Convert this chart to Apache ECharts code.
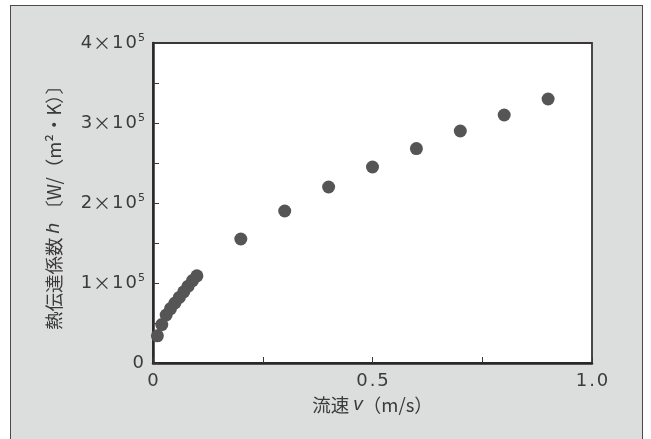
<!DOCTYPE html>
<html><head><meta charset="utf-8">
<script src="https://cdn.jsdelivr.net/npm/echarts@6/dist/echarts.min.js"></script>
<style>
html,body{margin:0;padding:0;background:#fff;}
#wrap{position:relative;width:651px;height:439px;overflow:hidden;}
#frame{position:absolute;left:10px;top:5px;width:633px;height:440px;background:#dcdddd;border:1.5px solid #4d4a4a;box-sizing:border-box;}
#chart{position:absolute;left:0;top:0;width:651px;height:439px;}
</style></head>
<body><div id="wrap"><div id="frame"></div><div id="chart"></div></div>
<script>
// data
const vSmall = [0.01,0.02,0.03,0.04,0.05,0.06,0.07,0.08,0.09,0.10];
const hSmall = [34000,48000,60000,68000,75000,82000,89000,96000,103000,109000];
const vLarge = [0.2,0.3,0.4,0.5,0.6,0.7,0.8,0.9];
const hLarge = [155000,190000,220000,245000,268000,290000,310000,330000];
const xTickLabels = {0:'0',0.5:'0.5',1:'1.0'};
const yTickMantissa = {0:'0',100000:'1',200000:'2',300000:'3',400000:'4'};

const pts = vSmall.map((v,i)=>[v,hSmall[i]]).concat(vLarge.map((v,i)=>[v,hLarge[i]]));
const txt = '#3c3a3a';
const font = '"Noto Sans CJK JP", "Noto Sans", sans-serif';
const numFont = '"DejaVu Sans", sans-serif';
const chart = echarts.init(document.getElementById('chart'));
chart.setOption({
  backgroundColor:'transparent',
  animation:false,
  grid:{left:153,right:59,top:43,bottom:76,show:true,backgroundColor:'#fff',borderColor:'#3a3636',borderWidth:1.8},
  xAxis:{type:'value',min:0,max:1,interval:0.25,
    axisLine:{show:true,lineStyle:{color:'#2a2626',width:2.5}},
    axisTick:{show:true,inside:true,length:6,lineStyle:{color:'#3a3636',width:1}},
    splitLine:{show:false},
    axisLabel:{margin:9,color:txt,fontFamily:numFont,
      formatter:v=>{const k=Math.round(v*100)/100; const s=xTickLabels[k]; if(s===undefined) return ''; return s.split('').map(c=>'{d|'+c+'}').join('');},
      rich:{d:{fontSize:18,color:txt,fontFamily:numFont,padding:[0,1,0,1]}}},
    name:'{t|流速 }{i|v}{t|（m/s）}',nameLocation:'middle',nameGap:32,
    nameTextStyle:{rich:{t:{fontSize:18.5,color:txt,fontFamily:font},i:{fontSize:19,fontStyle:'italic',color:txt,fontFamily:'"Liberation Sans", sans-serif'}}}
  },
  yAxis:{type:'value',min:0,max:400000,interval:50000,
    axisLine:{show:true,lineStyle:{color:'#2a2626',width:2.5}},
    axisTick:{show:true,inside:true,length:6,lineStyle:{color:'#3a3636',width:1}},
    splitLine:{show:false},
    axisLabel:{margin:8,color:txt,fontFamily:numFont,
      formatter:v=>{const m=yTickMantissa[v]; if(m===undefined) return ''; if(v===0) return '{a|0}'; return '{a|'+m+'}{x|×}{a|1}{a|0}{s|5}';},
      rich:{a:{fontSize:18,color:txt,fontFamily:numFont,lineHeight:20,padding:[0,1,0,1]},
            x:{fontSize:18,color:txt,fontFamily:font,lineHeight:20},
            s:{fontSize:11,color:txt,fontFamily:numFont,lineHeight:20,verticalAlign:'top'}}
    },
    name:'{t|熱伝達係数 }{i|h}{t| 〔W/（m²・K）〕}',nameLocation:'middle',nameGap:90,nameRotate:90,
    nameTextStyle:{rich:{t:{fontSize:18.5,color:txt,fontFamily:font},i:{fontSize:19,fontStyle:'italic',color:txt,fontFamily:'"Liberation Sans", sans-serif'}}}
  },
  series:[{type:'scatter',data:pts,symbol:'circle',symbolSize:13,itemStyle:{color:'#555555',opacity:1}}]
});
</script></body></html>
